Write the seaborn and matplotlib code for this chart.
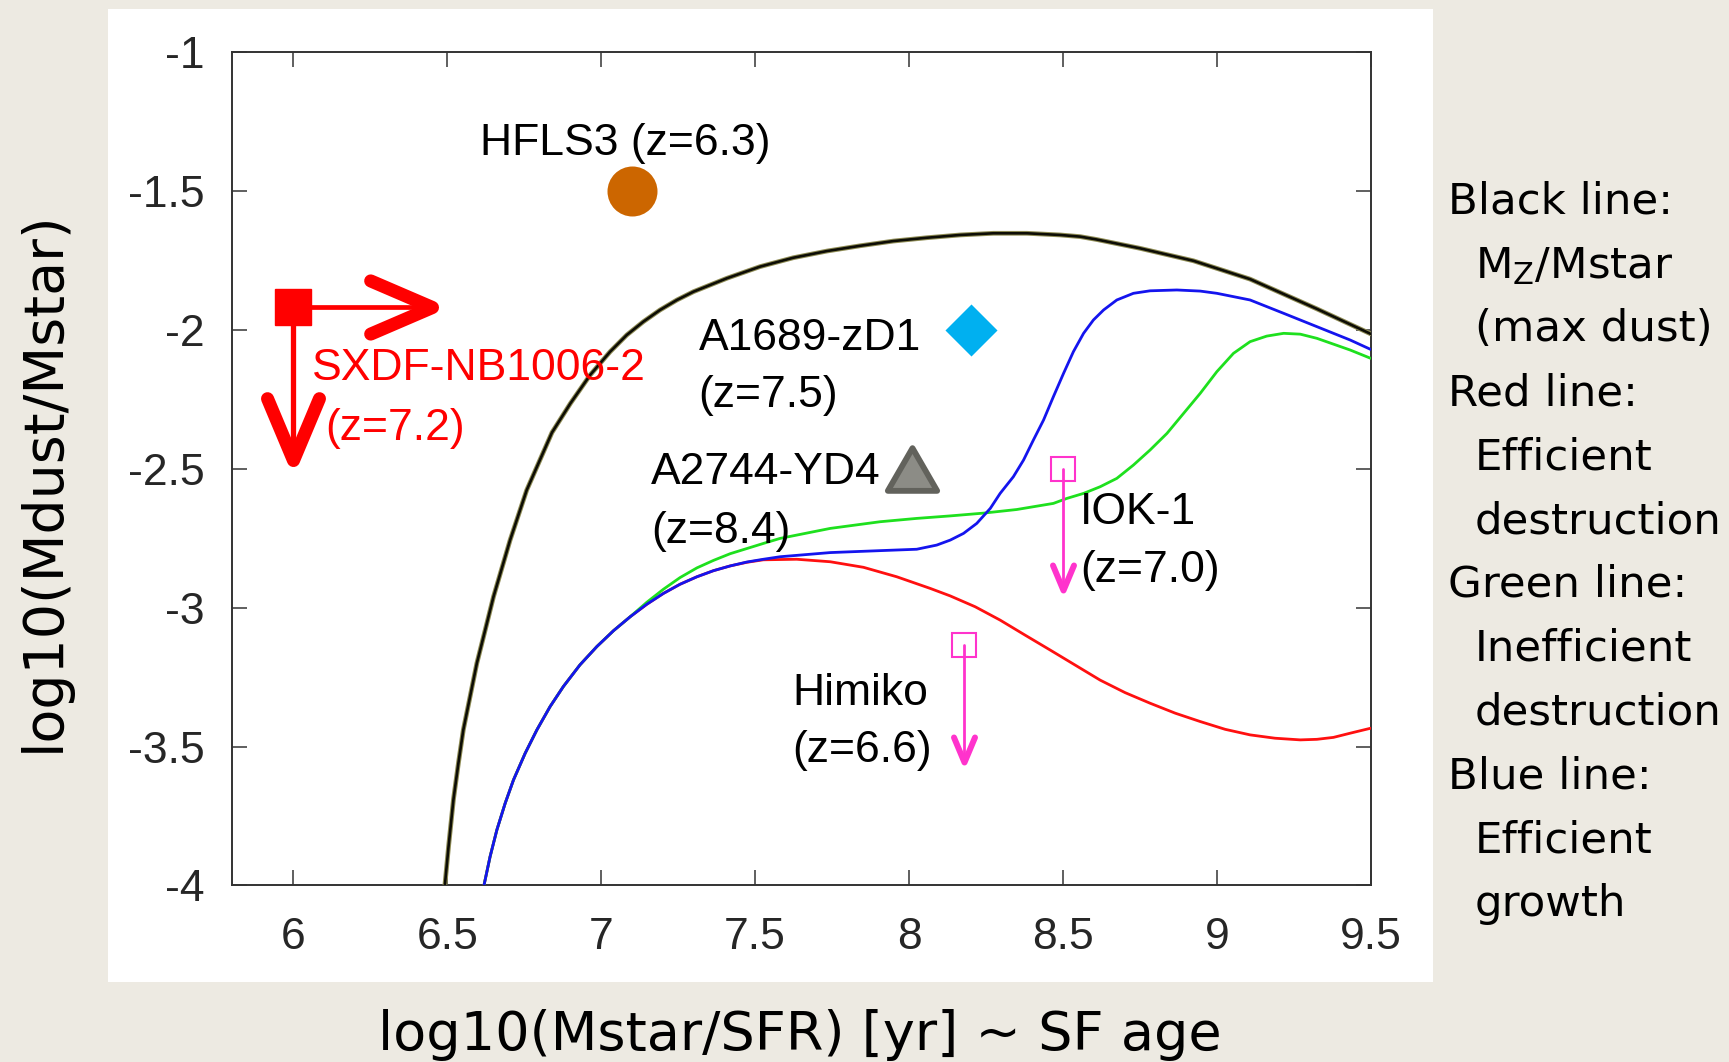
import matplotlib
matplotlib.use("Agg")
import matplotlib.pyplot as plt
import matplotlib.patheffects as pe
from matplotlib.path import Path
from matplotlib.markers import MarkerStyle
from matplotlib.patches import Rectangle
import seaborn as sns

# ---------------- model tracks: log10(Mstar/SFR) vs log10(Mdust/Mstar) ----------------
age_black = [6.492, 6.504, 6.52, 6.536, 6.552, 6.574, 6.596, 6.623, 6.65, 6.677, 6.704, 6.731,
             6.758, 6.84, 6.90, 6.964, 7.029, 7.083, 7.137, 7.191, 7.246, 7.3, 7.408, 7.516,
             7.624, 7.733, 7.841, 7.949, 8.058, 8.166, 8.274, 8.383, 8.491, 8.556, 8.608, 8.75,
             8.924, 9.108, 9.325, 9.5]
dust_black = [-4.0, -3.86, -3.69, -3.56, -3.44, -3.32, -3.2, -3.081, -2.961, -2.859, -2.757, -2.667,
              -2.577, -2.37, -2.265, -2.163, -2.079, -2.019, -1.971, -1.929, -1.893, -1.863, -1.815, -1.773,
              -1.741, -1.717, -1.698, -1.681, -1.669, -1.659, -1.653, -1.653, -1.659, -1.665, -1.675, -1.707,
              -1.752, -1.818, -1.925, -2.015]

age_red = [6.619, 6.639, 6.661, 6.688, 6.715, 6.753, 6.791, 6.834, 6.877, 6.931, 6.986, 7.04,
           7.094, 7.148, 7.202, 7.256, 7.311, 7.365, 7.419, 7.473, 7.527, 7.635, 7.744, 7.852,
           7.960, 8.069, 8.134, 8.215, 8.296, 8.377, 8.459, 8.540, 8.621, 8.702, 8.783, 8.865,
           8.946, 9.027, 9.108, 9.189, 9.271, 9.325, 9.379, 9.433, 9.5]
dust_red = [-4.0, -3.896, -3.800, -3.704, -3.620, -3.524, -3.440, -3.356, -3.284, -3.206, -3.140, -3.083,
            -3.033, -2.988, -2.949, -2.916, -2.889, -2.867, -2.850, -2.837, -2.828, -2.826, -2.835, -2.855,
            -2.889, -2.931, -2.958, -2.997, -3.045, -3.099, -3.153, -3.207, -3.261, -3.306, -3.344, -3.380,
            -3.410, -3.438, -3.458, -3.470, -3.476, -3.474, -3.467, -3.452, -3.434]

age_green = [6.619, 6.639, 6.661, 6.688, 6.715, 6.753, 6.791, 6.834, 6.877, 6.931, 6.986, 7.04,
             7.094, 7.148, 7.202, 7.256, 7.311, 7.365, 7.419, 7.527, 7.581, 7.744, 7.906, 8.025,
             8.134, 8.242, 8.350, 8.404, 8.469, 8.513, 8.567, 8.621, 8.675, 8.729, 8.783, 8.838,
             8.892, 8.946, 9.0, 9.054, 9.108, 9.162, 9.217, 9.271, 9.325, 9.379, 9.433, 9.5]
dust_green = [-4.0, -3.896, -3.800, -3.704, -3.620, -3.524, -3.440, -3.356, -3.284, -3.206, -3.140, -3.083,
              -3.033, -2.981, -2.934, -2.892, -2.857, -2.830, -2.806, -2.769, -2.751, -2.715, -2.691, -2.679,
              -2.670, -2.660, -2.647, -2.637, -2.625, -2.607, -2.589, -2.565, -2.535, -2.487, -2.433, -2.373,
              -2.301, -2.229, -2.151, -2.085, -2.043, -2.023, -2.013, -2.016, -2.031, -2.052, -2.073, -2.103]

age_blue = [6.619, 6.639, 6.661, 6.688, 6.715, 6.753, 6.791, 6.834, 6.877, 6.931, 6.986, 7.04,
            7.094, 7.148, 7.202, 7.256, 7.311, 7.365, 7.419, 7.473, 7.527, 7.581, 7.744, 7.906,
            8.025, 8.09, 8.134, 8.177, 8.220, 8.264, 8.296, 8.339, 8.372, 8.404, 8.437, 8.469,
            8.502, 8.534, 8.567, 8.599, 8.632, 8.675, 8.729, 8.783, 8.870, 8.946, 9.0, 9.108,
            9.217, 9.325, 9.433, 9.5]
dust_blue = [-4.0, -3.896, -3.800, -3.704, -3.620, -3.524, -3.440, -3.356, -3.284, -3.206, -3.140, -3.083,
             -3.033, -2.988, -2.949, -2.916, -2.889, -2.867, -2.850, -2.836, -2.826, -2.817, -2.802, -2.795,
             -2.790, -2.775, -2.757, -2.733, -2.697, -2.643, -2.589, -2.529, -2.469, -2.397, -2.325, -2.241,
             -2.157, -2.079, -2.013, -1.965, -1.929, -1.893, -1.869, -1.860, -1.857, -1.861, -1.869, -1.893,
             -1.941, -1.989, -2.037, -2.071]

# ---------------- observed galaxies ----------------
det_names = ["HFLS3 (z=6.3)", "A1689-zD1", "A2744-YD4"]
det_age = [7.10, 8.20, 8.01]
det_dust = [-1.50, -2.00, -2.50]

# upper limits on dust (square = measured point, arrow tip = end of limit)
lim_names = ["IOK-1", "Himiko"]
lim_age = [8.50, 8.18]
lim_dust = [-2.50, -3.135]
lim_dust_tip = [-2.935, -3.556]

# SXDF-NB1006-2: lower limit on age, upper limit on dust
sxdf_age, sxdf_dust = 6.00, -1.92
sxdf_age_tip, sxdf_dust_tip = 6.45, -2.47

x_ticks = [6, 6.5, 7, 7.5, 8, 8.5, 9, 9.5]
x_ticklabels = ["6", "6.5", "7", "7.5", "8", "8.5", "9", "9.5"]
y_ticks = [-4, -3.5, -3, -2.5, -2, -1.5, -1]
y_ticklabels = ["-4", "-3.5", "-3", "-2.5", "-2", "-1.5", "-1"]

legend_lines = [
    ("Black line:", False), ("M$_{\\mathregular{Z}}$/Mstar", True), ("(max dust)", True),
    ("Red line:", False), ("Efficient", True), ("destruction", True),
    ("Green line:", False), ("Inefficient", True), ("destruction", True),
    ("Blue line:", False), ("Efficient", True), ("growth", True),
]

# ---------------- style ----------------
BG = "#EDEAE2"
PINK = "#FF33CC"
RED = "#FF0000"

sns.set_style("ticks")
plt.rcParams["font.family"] = ["Liberation Sans", "DejaVu Sans"]
plt.rcParams["axes.unicode_minus"] = False
WIDE = ["DejaVu Sans"]

fig = plt.figure(figsize=(17.29, 10.62), dpi=100)
fig.patch.set_facecolor(BG)
fig.add_artist(Rectangle((0.0625, 0.0756), 0.7663, 0.916, transform=fig.transFigure,
                         facecolor="white", edgecolor="none", zorder=0))
ax = fig.add_axes([0.1340, 0.1662, 0.6588, 0.7850])
ax.set_facecolor("white")

# model curves
sns.lineplot(x=age_black, y=dust_black, ax=ax, color="#0d0d05", lw=1.9,
             sort=False, estimator=None, zorder=3, solid_joinstyle="round")
ax.lines[-1].set_path_effects([pe.Stroke(linewidth=3.4, foreground="#8f8c55"), pe.Normal()])
for xs, ys, col in [(age_red, dust_red, "#FF1010"),
                    (age_green, dust_green, "#1EE01E"),
                    (age_blue, dust_blue, "#1414EE")]:
    sns.lineplot(x=xs, y=ys, ax=ax, color=col, lw=2.0, sort=False, estimator=None,
                 zorder=3, solid_joinstyle="round")

# detections
tri = Path([(0, 0.433), (-0.5, -0.433), (0.5, -0.433), (0, 0.433)],
           [Path.MOVETO, Path.LINETO, Path.LINETO, Path.CLOSEPOLY])
sns.scatterplot(x=det_age[:1], y=det_dust[:1], ax=ax, marker="o", s=36 ** 2,
                color="#CC6600", linewidth=0, zorder=5)
sns.scatterplot(x=det_age[1:2], y=det_dust[1:2], ax=ax, marker="D", s=26.5 ** 2,
                color="#00B0F0", linewidth=0, zorder=5)
sns.scatterplot(x=det_age[2:], y=det_dust[2:], ax=ax, marker=MarkerStyle(tri), s=35.5 ** 2,
                color="#8C8C86", edgecolor="#62625C", linewidth=4.2, zorder=5)

# open V arrow heads
def vhead(direction):
    if direction == "down":
        verts = [(-0.42, 1.0), (0, 0), (0.42, 1.0)]
    else:
        verts = [(-1.0, 0.43), (0, 0), (-1.0, -0.43)]
    return MarkerStyle(Path(verts, [Path.MOVETO, Path.LINETO, Path.LINETO]),
                       fillstyle="none", capstyle="round", joinstyle="round")

# upper limits
for x, y0, y1 in zip(lim_age, lim_dust, lim_dust_tip):
    ax.plot([x, x], [y0, y1], color=PINK, lw=2.0, zorder=4)
ax.plot(lim_age, lim_dust, ls="none", marker="s", ms=17.3, mfc="none", mec=PINK, mew=1.5, zorder=5)
ax.plot(lim_age, lim_dust_tip, ls="none", marker=vhead("down"), ms=36, mfc="none",
        mec=PINK, mew=4.3, zorder=5)

# SXDF-NB1006-2 limits
ax.plot([sxdf_age, sxdf_age_tip], [sxdf_dust, sxdf_dust], color=RED, lw=3.4, zorder=4)
ax.plot([sxdf_age, sxdf_age], [sxdf_dust, sxdf_dust_tip], color=RED, lw=3.8, zorder=4)
ax.plot([sxdf_age], [sxdf_dust], ls="none", marker="s", ms=26.6, color=RED, zorder=5)
ax.plot([sxdf_age_tip], [sxdf_dust], ls="none", marker=vhead("right"), ms=89, mfc="none",
        mec=RED, mew=9.4, zorder=5)
ax.plot([sxdf_age], [sxdf_dust_tip], ls="none", marker=vhead("down"), ms=89, mfc="none",
        mec=RED, mew=9.4, zorder=5)

# labels
LBL = dict(fontsize=32, color="black", va="baseline", zorder=6)
ax.text(7.079, -1.371, det_names[0], ha="center", **LBL)
ax.text(7.316, -2.073, det_names[1], ha="left", **LBL)
ax.text(7.316, -2.277, "(z=7.5)", ha="left", **LBL)
ax.text(7.162, -2.555, det_names[2], ha="left", **LBL)
ax.text(7.162, -2.769, "(z=8.4)", ha="left", **LBL)
ax.text(8.556, -2.699, lim_names[0], ha="left", **LBL)
ax.text(8.556, -2.907, "(z=7.0)", ha="left", **LBL)
ax.text(7.622, -3.352, lim_names[1], ha="left", **LBL)
ax.text(7.622, -3.557, "(z=6.6)", ha="left", **LBL)
ax.text(6.061, -2.180, "SXDF-NB1006-2", ha="left", **{**LBL, "color": RED})
ax.text(6.103, -2.397, "(z=7.2)", ha="left", **{**LBL, "color": RED})

# axes
ax.set_xlim(5.7995, 9.5)
ax.set_ylim(-4, -1)
ax.set_xticks(x_ticks)
ax.set_xticklabels(x_ticklabels)
ax.set_yticks(y_ticks)
ax.set_yticklabels(y_ticklabels)
ax.tick_params(direction="in", length=10.5, width=1.2, color="#444444",
               top=True, right=True, labelsize=32, labelcolor="#262626")
ax.tick_params(axis="x", pad=22.5)
ax.tick_params(axis="y", pad=19.5)
for sp in ax.spines.values():
    sp.set_color("#333333")
    sp.set_linewidth(1.4)

ax.set_xlabel("log10(Mstar/SFR) [yr] ~ SF age", fontsize=39, family=WIDE, color="black")
ax.xaxis.set_label_coords(0.4986, -0.1973)
ax.xaxis.label.set_va("baseline")
ax.set_ylabel("log10(Mdust/Mstar)", fontsize=40, family=WIDE, color="black")
ax.yaxis.set_label_coords(-0.1647, 0.4852)
ax.yaxis.label.set_va("center")

# explanation of the tracks
for i, (line, indent) in enumerate(legend_lines):
    fig.text(0.8531 if indent else 0.8375, 0.7987 - i * 0.06012, line,
             fontsize=31.3, family=WIDE, color="black", va="baseline", ha="left")

fig.savefig("out.png", dpi=100, facecolor=fig.get_facecolor())
